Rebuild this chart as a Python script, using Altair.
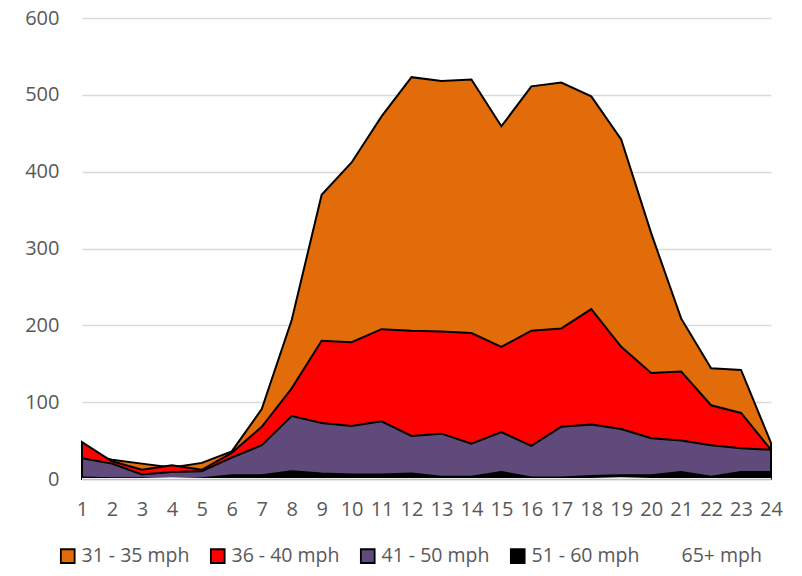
import altair as alt
import pandas as pd

hours = list(range(1, 25))
s31 = [35, 25, 20, 15, 21, 36, 91, 207, 370, 412, 472, 523, 518, 520, 459, 511, 516, 498, 442, 320, 209, 144, 142, 47]
s36 = [48, 23, 12, 18, 12, 34, 68, 118, 180, 178, 195, 193, 192, 190, 172, 193, 196, 221, 172, 138, 140, 96, 86, 38]
s41 = [27, 20, 6, 9, 10, 28, 44, 82, 73, 69, 75, 56, 59, 46, 61, 43, 68, 71, 65, 53, 50, 44, 40, 38]
s51 = [2, 1, 1, 1, 1, 5, 5, 10, 7, 6, 6, 7, 3, 3, 9, 2, 2, 4, 5, 5, 9, 3, 9, 9]
s65 = [0, 0, 0, 1, 0, 0, 0, 0, 0, 0, 0, 0, 0, 0, 0, 0, 0, 0, 1, 0, 0, 0, 0, 0]

names = ["31 - 35 mph", "36 - 40 mph", "41 - 50 mph", "51 - 60 mph", "65+ mph"]
fills = ["#E36C0A", "#FF0000", "#604A7B", "#000000", "#FFFFFF"]
strokes = ["#000000", "#000000", "#000000", "#000000", "#FFFFFF"]
series = [s31, s36, s41, s51, s65]

rows = []
for n, vals in zip(names, series):
    for h, v in zip(hours, vals):
        rows.append({"hour": h, "value": v, "series": n})
df = pd.DataFrame(rows)

base = alt.Chart(df)
layers = []
for i, n in enumerate(names):
    enc = dict(
        x=alt.X("hour:Q",
                scale=alt.Scale(domain=[1, 24], nice=False, zero=False),
                axis=alt.Axis(values=hours, title=None, grid=False, ticks=False,
                              domain=True, domainColor="#BFBFBF", domainWidth=1.5,
                              labelPadding=20, labelFontSize=20, labelColor="#595959",
                              labelFont="Open Sans", zindex=1, labelFlush=False)),
        y=alt.Y("value:Q", stack=None,
                scale=alt.Scale(domain=[0, 600], nice=False),
                axis=alt.Axis(values=[0, 100, 200, 300, 400, 500, 600], title=None,
                              ticks=False, domain=False, gridColor="#D9D9D9",
                              gridWidth=1.5, labelPadding=23, labelFontSize=20,
                              labelColor="#595959", labelFont="Open Sans")),
        fill=alt.Fill("series:N", scale=alt.Scale(domain=names, range=fills),
                      legend=alt.Legend(title=None, orient="none", direction="horizontal",
                                        legendX=-24, legendY=528, symbolType="square",
                                        symbolSize=190, symbolStrokeWidth=1.8,
                                        labelFontSize=19.5, labelColor="#595959",
                                        labelFont="Open Sans", columnPadding=17,
                                        labelOffset=4, symbolOpacity=1)),
        stroke=alt.Stroke("series:N", scale=alt.Scale(domain=names, range=strokes)),
    )
    layers.append(
        base.transform_filter(alt.datum.series == n)
        .mark_area(strokeWidth=2, opacity=1, fillOpacity=1, interpolate="linear")
        .encode(**enc)
    )

chart = alt.layer(*layers).properties(
    width=689, height=461,
    autosize=alt.AutoSizeParams(type="none"),
    padding={"left": 74, "top": 10, "right": 23, "bottom": 89},
).configure_view(stroke=None)

chart.save("out.html", embed_options={"renderer": "svg", "actions": False})
